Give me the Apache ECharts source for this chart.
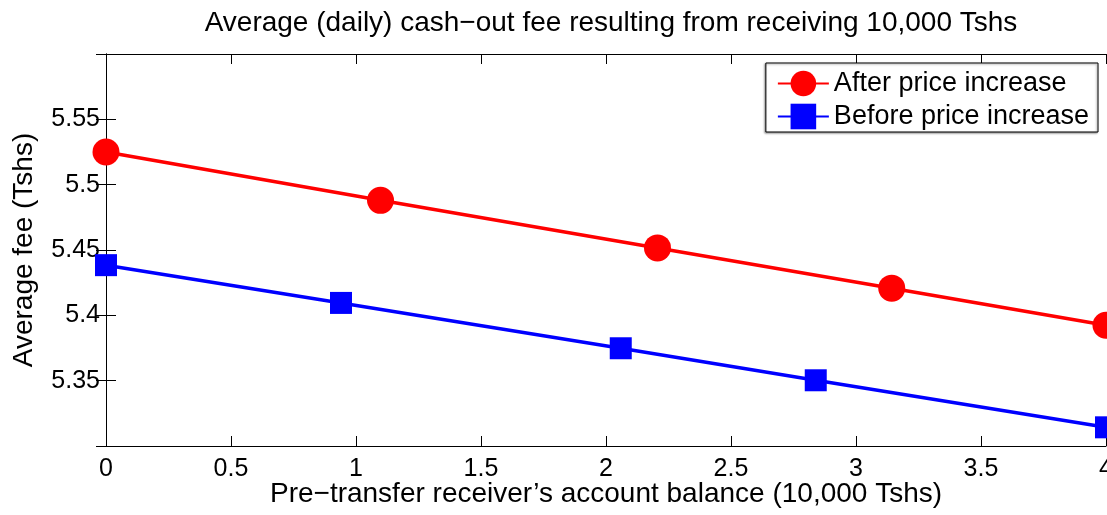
<!DOCTYPE html>
<html><head><meta charset="utf-8">
<script src="https://cdn.jsdelivr.net/npm/echarts@6/dist/echarts.min.js"></script>
<style>html,body{margin:0;padding:0;background:#fff}#c{width:1107px;height:515px}</style>
</head><body><div id="c"></div>
<script>
const seriesNames = ['After price increase', 'Before price increase'];
const afterX = [0, 1.098, 2.206, 3.143, 4];
const afterY = [5.525, 5.488, 5.4516, 5.4208, 5.3924];
const beforeX = [0, 0.94, 2.059, 2.839, 4];
const beforeY = [5.4384, 5.4095, 5.3748, 5.3503, 5.3143];
const titleText = 'Average (daily) cash\u2212out fee resulting from receiving 10,000 Tshs';
const xName = 'Pre\u2212transfer receiver\u2019s account balance (10,000 Tshs)';
const yName = 'Average fee (Tshs)';

const FONT = '"Liberation Sans", Arial, Helvetica, sans-serif';
const chart = echarts.init(document.getElementById('c'), null, {renderer: 'canvas'});
const pair = (xs, ys) => xs.map((x, i) => [x, ys[i]]);
const axLine = {show: true, lineStyle: {color: '#000', width: 1}};
const tick = {show: true, inside: true, length: 10, lineStyle: {color: '#000'}};
chart.setOption({
  animation: false,
  backgroundColor: '#fff',
  title: {text: titleText, left: 606, top: 4, textAlign: 'center',
    textStyle: {fontFamily: FONT, fontSize: 28, fontWeight: 'normal', color: '#000'}},
  grid: {left: 106, right: 1, top: 54, bottom: 69, containLabel: false, outerBoundsMode: 'none'},
  legend: {
    right: 9, top: 63, orient: 'vertical',
    data: seriesNames,
    itemWidth: 51, itemHeight: 32, itemGap: 6,
    padding: [7, 9, 2, 11],
    backgroundColor: '#fff', borderColor: '#000', borderWidth: 1,
    shadowColor: 'rgba(0,0,0,0.4)', shadowBlur: 2, shadowOffsetX: -1, shadowOffsetY: 1,
    textStyle: {fontFamily: FONT, fontSize: 27, color: '#000'}
  },
  xAxis: [{
    type: 'value', min: 0, max: 4, interval: 0.5, position: 'bottom',
    name: xName, nameLocation: 'middle', nameGap: 34, nameMoveOverlap: false,
    nameTextStyle: {fontFamily: FONT, fontSize: 28, color: '#000'},
    axisLine: axLine, axisTick: tick,
    axisLabel: {fontFamily: FONT, fontSize: 25, color: '#000', margin: 11},
    splitLine: {show: false}
  }, {
    type: 'value', min: 0, max: 4, interval: 0.5, position: 'top',
    axisLine: axLine, axisTick: tick,
    axisLabel: {show: false}, splitLine: {show: false}
  }],
  yAxis: [{
    type: 'value', min: 5.3, max: 5.6, interval: 0.05, position: 'left',
    name: yName, nameLocation: 'middle', nameGap: 68, nameMoveOverlap: false,
    nameTextStyle: {fontFamily: FONT, fontSize: 28, color: '#000'},
    axisLine: axLine, axisTick: tick,
    axisLabel: {fontFamily: FONT, fontSize: 25, color: '#000', margin: 6,
      showMinLabel: false, showMaxLabel: false},
    splitLine: {show: false}
  }, {
    type: 'value', min: 5.3, max: 5.6, interval: 0.05, position: 'right',
    axisLine: axLine, axisTick: tick,
    axisLabel: {show: false}, splitLine: {show: false}
  }],
  series: [{
    name: seriesNames[0], type: 'line', data: pair(afterX, afterY),
    symbol: 'circle', symbolSize: 27, clip: false,
    lineStyle: {color: '#ff0000', width: 3.5}, itemStyle: {color: '#ff0000'}
  }, {
    name: seriesNames[1], type: 'line', data: pair(beforeX, beforeY),
    symbol: 'rect', symbolSize: 22, clip: false,
    lineStyle: {color: '#0000ff', width: 3.5}, itemStyle: {color: '#0000ff'}
  }]
});
</script></body></html>
